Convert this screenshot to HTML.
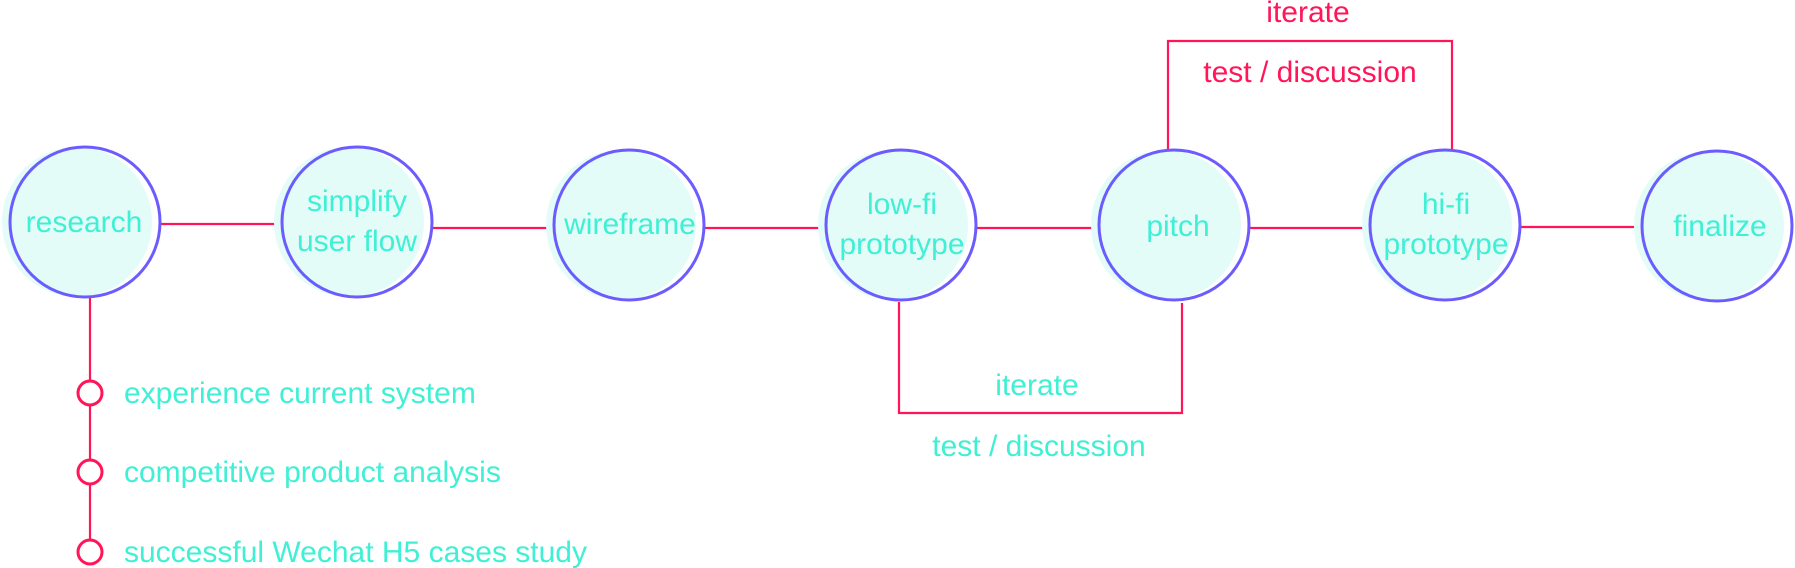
<!DOCTYPE html>
<html><head><style>
html,body{margin:0;padding:0;background:#fff;}
svg{display:block;}
text{font-family:"Liberation Sans",sans-serif;font-size:30px;}
.c{fill:#3ff0d4;}
.r{fill:#ff1558;}
</style></head><body>
<svg width="1795" height="568" viewBox="0 0 1795 568" xmlns="http://www.w3.org/2000/svg">
<g stroke="#ff1558" stroke-width="2.2" fill="none">
<line x1="161" y1="224" x2="281" y2="224"/>
<line x1="433" y1="228" x2="553" y2="228"/>
<line x1="705" y1="228" x2="825" y2="228"/>
<line x1="977" y1="228" x2="1098" y2="228"/>
<line x1="1250" y1="228" x2="1369" y2="228"/>
<line x1="1521" y1="227" x2="1642" y2="227"/>
<line x1="90" y1="298" x2="90" y2="380"/>
<line x1="90" y1="406" x2="90" y2="459"/>
<line x1="90" y1="485" x2="90" y2="539"/>
<polyline points="899,302 899,413 1182,413 1182,303"/>
<polyline points="1168,150 1168,41 1452,41 1452,150"/>
</g>
<g stroke="#ff1558" stroke-width="3" fill="#fff">
<circle cx="90" cy="393" r="12"/>
<circle cx="90" cy="472" r="12"/>
<circle cx="90" cy="552" r="12"/>
</g>
<g>
<circle cx="77" cy="222" r="75" fill="#e3fcf8"/>
<circle cx="349" cy="222" r="75" fill="#e3fcf8"/>
<circle cx="621" cy="225" r="75" fill="#e3fcf8"/>
<circle cx="893" cy="225" r="75" fill="#e3fcf8"/>
<circle cx="1166" cy="225" r="75" fill="#e3fcf8"/>
<circle cx="1437" cy="225" r="75" fill="#e3fcf8"/>
<circle cx="1709" cy="226" r="75" fill="#e3fcf8"/>
</g>
<g stroke="#6b5cff" stroke-width="3" fill="none">
<circle cx="85" cy="222" r="75"/>
<circle cx="357" cy="222" r="75"/>
<circle cx="629" cy="225" r="75"/>
<circle cx="901" cy="225" r="75"/>
<circle cx="1174" cy="225" r="75"/>
<circle cx="1445" cy="225" r="75"/>
<circle cx="1717" cy="226" r="75"/>
</g>
<g class="c" text-anchor="middle">
<text x="84" y="232">research</text>
<text x="357" y="211">simplify</text>
<text x="357" y="251">user flow</text>
<text x="630" y="234">wireframe</text>
<text x="902" y="214">low-fi</text>
<text x="902" y="254">prototype</text>
<text x="1178" y="236">pitch</text>
<text x="1446" y="214">hi-fi</text>
<text x="1446" y="254">prototype</text>
<text x="1720" y="236">finalize</text>
<text x="1037" y="395">iterate</text>
<text x="1039" y="456">test / discussion</text>
</g>
<g class="r" text-anchor="middle">
<text x="1308" y="22">iterate</text>
<text x="1310" y="82">test / discussion</text>
</g>
<g class="c">
<text x="124" y="403">experience current system</text>
<text x="124" y="482">competitive product analysis</text>
<text x="124" y="562">successful Wechat H5 cases study</text>
</g>
</svg>
</body></html>
